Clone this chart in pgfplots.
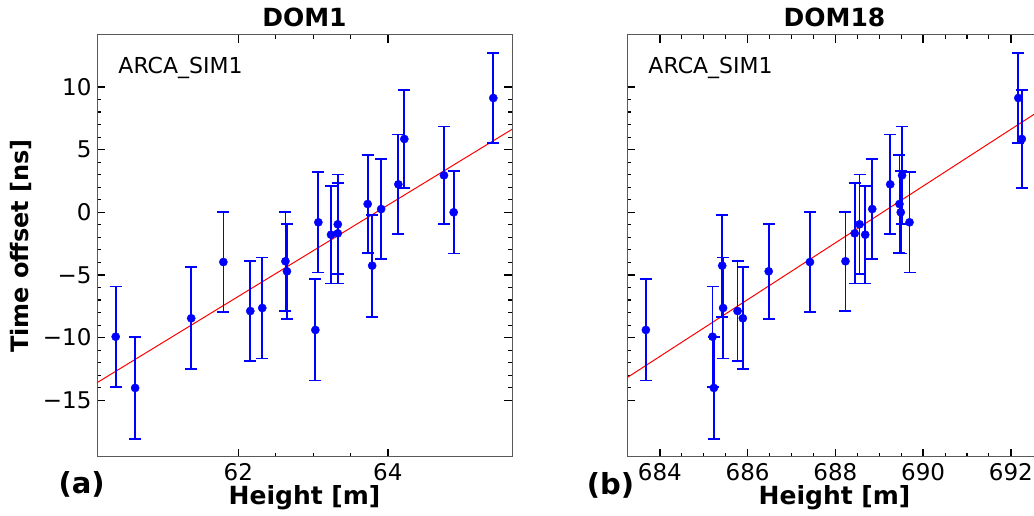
\documentclass[border=0pt]{standalone}
\usepackage{fontspec}
\setmainfont{DejaVu Sans}
\usepackage{pgfplots}
\pgfplotsset{compat=1.18}
\usepackage{pgfplotstable}

\pgfplotstableread{
x y e
60.36 -9.93 4.0
60.62 -14.02 4.05
61.37 -8.46 4.07
61.80 -3.97 4.0
62.16 -7.88 4.0
62.32 -7.64 4.02
62.63 -3.91 3.96
62.65 -4.71 3.78
63.03 -9.39 4.04
63.07 -0.80 4.0
63.24 -1.79 3.9
63.33 -1.68 4.0
63.33 -0.96 3.97
63.73 0.66 3.92
63.79 -4.26 4.07
63.91 0.26 3.98
64.14 2.23 3.98
64.22 5.85 3.9
64.75 2.95 3.9
64.88 0.00 3.3
65.41 9.12 3.6
}\domone

\pgfplotstableread{
x y e
683.68 -9.39 4.04
685.20 -9.93 4.0
685.23 -14.02 4.05
685.42 -4.26 4.07
685.44 -7.64 4.02
685.77 -7.88 4.0
685.89 -8.46 4.07
686.48 -4.71 3.78
687.42 -3.97 4.0
688.23 -3.91 3.96
688.44 -1.68 4.0
688.55 -0.96 3.97
688.68 -1.79 3.9
688.84 0.26 3.98
689.25 2.23 3.98
689.46 0.66 3.92
689.49 0.00 3.3
689.52 2.95 3.9
689.69 -0.80 4.0
692.17 9.12 3.6
692.25 5.85 3.9
}\domeighteen

\pgfplotsset{
  myaxis/.style={
    scale only axis,
    width=415pt, height=422pt,
    anchor=south west,
    ymin=-19.53, ymax=14.15,
    ytick={-15,-10,-5,0,5,10},
    minor y tick num=4,
    minor x tick num=3,
    tick align=inside,
    xtick pos=both, ytick pos=both,
    ticklabel pos=left,
    major tick length=8pt,
    minor tick length=4pt,
    every major tick/.append style={black, line width=1.4pt},
    every minor tick/.append style={black, line width=1.1pt},
    axis line style={black!65, line width=1pt},
    /pgf/number format/assume math mode=true,
    every tick label/.append style={inner sep=0pt, font=\fontsize{23}{27}\selectfont},
    xticklabel style={yshift=-6.3pt},
    yticklabel style={xshift=-5.3pt},
    every axis x label/.style={at={(axis description cs:0.5,-0.1137)}, anchor=base, font=\fontsize{25}{30}\selectfont\bfseries},
    every axis y label/.style={at={(axis description cs:-0.166,0.5)}, rotate=90, anchor=base, font=\fontsize{24}{29}\selectfont\bfseries},
    every axis title/.style={at={(axis description cs:0.5,1.0197)}, anchor=base, inner sep=0pt, font=\fontsize{25}{30}\selectfont\bfseries},
  },
  pts/.style={
    draw=blue, only marks, mark=*, mark size=4.1pt, mark options={fill=blue, draw=blue},
    error bars/y dir=both, error bars/y explicit,
    error bars/error bar style={draw=blue, line width=1.7pt},
    error bars/error mark options={draw=blue, rotate=90, mark size=6pt, line width=1.7pt},
  },
}

\begin{document}
\begin{tikzpicture}
\begin{axis}[myaxis,
  at={(97pt,59pt)},
  xmin=60.11, xmax=65.66,
  xtick={62,64},
  yticklabels={−15,−10,−5,0,5,10},
  title={DOM1},
  xlabel={Height [m]},
  ylabel={Time offset [ns]},
]
\addplot[red, line width=1pt] coordinates {(60.11,-13.6) (65.66,6.62)};
\addplot[pts] table[x=x, y=y, y error=e] {\domone};
\node[anchor=base west, inner sep=0pt, font=\fontsize{22}{26}\selectfont] at (axis description cs:0.0513,0.909) {ARCA\_SIM1};
\end{axis}
\begin{axis}[myaxis,
  at={(627pt,59pt)},
  xmin=683.25, xmax=692.71,
  xtick={684,686,688,690,692},
  yticklabels={},
  title={DOM18},
  xlabel={Height [m]},
]
\addplot[red, line width=1pt] coordinates {(683.25,-13.2) (692.71,8.23)};
\addplot[pts] table[x=x, y=y, y error=e] {\domeighteen};
\node[anchor=base west, inner sep=0pt, font=\fontsize{22}{26}\selectfont] at (axis description cs:0.0513,0.909) {ARCA\_SIM1};
\end{axis}
\node[anchor=base west, inner sep=0pt, font=\fontsize{29}{34}\selectfont\bfseries] at (58.3pt,22.7pt) {(a)};
\node[anchor=base west, inner sep=0pt, font=\fontsize{29}{34}\selectfont\bfseries] at (586.7pt,21.5pt) {(b)};
\pgfresetboundingbox
\useasboundingbox (0,0) rectangle (1034pt,516pt);
\end{tikzpicture}
\end{document}
